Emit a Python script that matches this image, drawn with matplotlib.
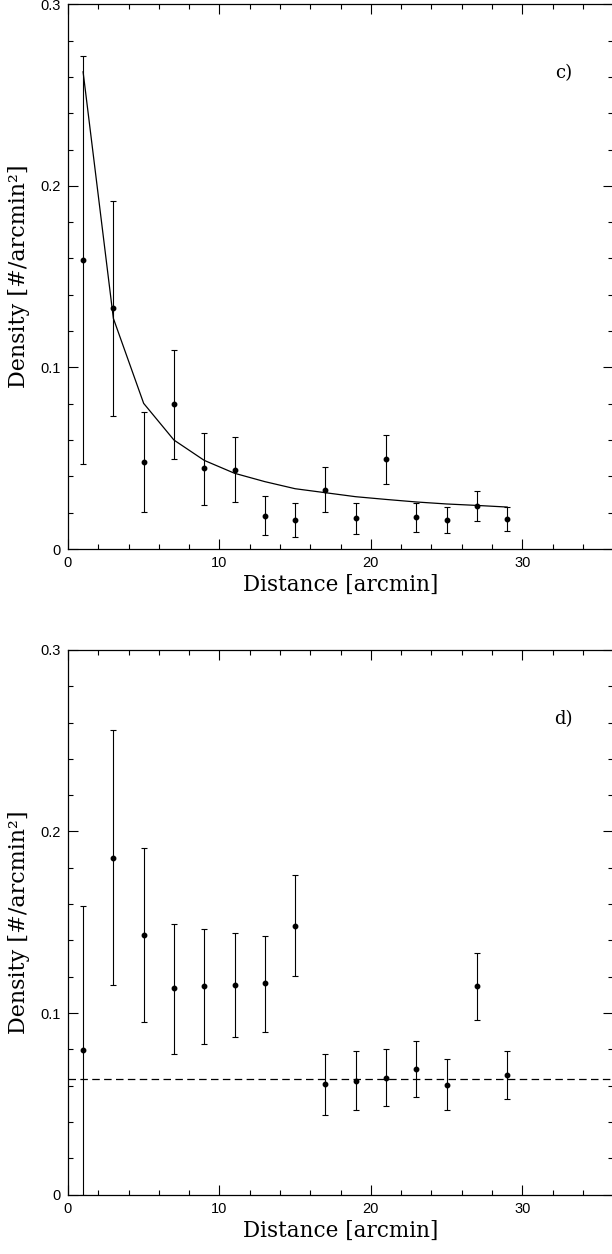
import numpy as np
import matplotlib
matplotlib.use('Agg')
import matplotlib.pyplot as plt
from matplotlib.ticker import MultipleLocator

# radial bins (arcmin)
r = [1, 3, 5, 7, 9, 11, 13, 15, 17, 19, 21, 23, 25, 27, 29]

# panel c) density, error bar limits and model profile
dens_c = [0.159, 0.1325, 0.0477, 0.0796, 0.0444, 0.0433, 0.0183, 0.0160,
          0.0327, 0.0169, 0.0494, 0.0174, 0.0160, 0.0237, 0.0165]
hi_c = [0.2716, 0.1918, 0.0752, 0.1095, 0.0640, 0.0615, 0.0290, 0.0251,
        0.0453, 0.0251, 0.0629, 0.0255, 0.0231, 0.0321, 0.0231]
lo_c = [0.0466, 0.0732, 0.0204, 0.0495, 0.0244, 0.0257, 0.0077, 0.0066,
        0.0204, 0.0083, 0.0356, 0.0095, 0.0088, 0.0154, 0.0099]
model_c = [0.2628, 0.127, 0.0802, 0.060, 0.0488, 0.0417, 0.0371, 0.0332,
           0.0310, 0.0288, 0.0273, 0.0259, 0.0248, 0.0240, 0.0231]

# panel d) density, error bar limits and background level
dens_d = [0.0797, 0.1854, 0.1428, 0.1136, 0.1147, 0.1156, 0.1163, 0.1482,
          0.0608, 0.0628, 0.0643, 0.0690, 0.0604, 0.1147, 0.0658]
hi_d = [0.1589, 0.2559, 0.1908, 0.1493, 0.1465, 0.1443, 0.1424, 0.1762,
        0.0777, 0.0791, 0.0800, 0.0846, 0.0744, 0.1332, 0.0793]
lo_d = [0.0, 0.1154, 0.0952, 0.0777, 0.0830, 0.0868, 0.0897, 0.1205,
        0.0440, 0.0467, 0.0489, 0.0537, 0.0467, 0.0963, 0.0526]
background_d = 0.0639

xticks = [0, 10, 20, 30]
yticks = [0, 0.1, 0.2, 0.3]
xtick_labels = ['0', '10', '20', '30']
ytick_labels = ['0', '0.1', '0.2', '0.3']

SERIF = 'DejaVu Serif'
SANS = 'Liberation Sans'

fig = plt.figure(figsize=(6.12, 12.54), dpi=100)
ax_c = fig.add_axes([0.111, 0.5622, 0.891, 0.4344])
ax_d = fig.add_axes([0.111, 0.0474, 0.891, 0.4343])


def draw_panel(ax, dens, lo, hi, tag):
    dens = np.array(dens)
    yerr = [dens - np.array(lo), np.array(hi) - dens]
    ax.errorbar(r, dens, yerr=yerr, fmt='o', color='black', ms=3.2,
                elinewidth=0.8, capsize=2.2, capthick=0.8, zorder=3)
    ax.set_xlim(0, 36)
    ax.set_ylim(0, 0.3)
    ax.xaxis.set_minor_locator(MultipleLocator(2))
    ax.yaxis.set_minor_locator(MultipleLocator(0.02))
    ax.set_xticks(xticks)
    ax.set_xticklabels(xtick_labels, family=SANS, fontsize=10.5)
    ax.set_yticks(yticks)
    ax.set_yticklabels(ytick_labels, family=SANS, fontsize=10.5)
    ax.tick_params(which='both', direction='in', top=True, right=True,
                   width=0.8, pad=5)
    ax.tick_params(which='major', length=7.5)
    ax.tick_params(which='minor', length=3.8)
    for sp in ax.spines.values():
        sp.set_linewidth(0.9)
    ax.set_xlabel('Distance [arcmin]', family=SERIF, fontsize=15.5, labelpad=3)
    ax.set_ylabel('Density [#/arcmin²]', family=SERIF, fontsize=16, labelpad=8)
    ax.text(32.7, 0.262, tag, family=SERIF, fontsize=13, ha='center', va='center')


draw_panel(ax_c, dens_c, lo_c, hi_c, 'c)')
ax_c.plot(r, model_c, color='black', lw=0.9, zorder=2)

draw_panel(ax_d, dens_d, lo_d, hi_d, 'd)')
ax_d.axhline(background_d, color='black', lw=0.9, ls=(0, (6, 3.5)), zorder=2)

fig.savefig('out.png', dpi=100)
